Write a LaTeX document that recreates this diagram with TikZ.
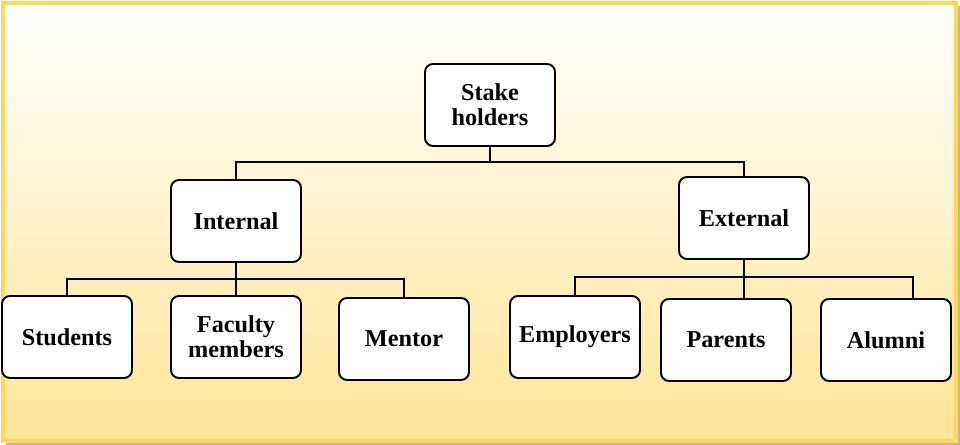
\documentclass[tikz,border=0pt]{standalone}
\usepackage{fontspec}
\setmainfont{Liberation Serif}
\usetikzlibrary{calc}

\definecolor{framegold}{RGB}{255,215,95}
\definecolor{shadegold}{RGB}{255,229,150}
\definecolor{framegray}{RGB}{200,185,140}

\begin{document}
\begin{tikzpicture}[x=0.02cm,y=-0.02cm,
    box/.style={draw,line width=1.1pt,rounded corners=0.16cm,fill=white,
        minimum width=2.6cm,minimum height=1.64cm,align=center,
        font=\fontsize{13.8}{14.3}\selectfont\bfseries},
    link/.style={line width=1.1pt}]
    \useasboundingbox (0,0) rectangle (960,445);

    % frame with shading
    \fill[framegray] (6,6) rectangle (960,445);
    \shade[top color=white,bottom color=shadegold] (3,3) rectangle (956,441);
    \draw[framegold,line width=1.8pt] (3,3) rectangle (956,441);

    \node[box] (stake) at (490,105) {Stake\\holders};

    \node[box] (internal) at (236,221) {Internal};
    \node[box] (external) at (744,218) {External};

    \node[box] (students) at (67,337) {Students};
    \node[box] (faculty) at (236,337) {Faculty\\members};
    \node[box] (mentor) at (404,339) {Mentor};

    \node[box] (employers) at (575,337) {Employers};
    \node[box] (parents) at (726,340) {Parents};
    \node[box] (alumni) at (886,340) {Alumni};

    \coordinate (topbar) at (490,162);
    \coordinate (intbar) at (236,279);
    \coordinate (extbar) at (744,277);

    \draw[link] (stake.south) -- (topbar);
    \draw[link] (internal.north) |- (topbar) -| (external.north);

    \draw[link] (internal.south) -- (intbar);
    \draw[link] (students.north) |- (intbar) -| (mentor.north);
    \draw[link] (intbar) -- (faculty.north);

    \draw[link] (external.south) -- (extbar);
    \draw[link] (employers.north) |- (extbar) -| ($(alumni.north)+(27,0)$);
    \draw[link] (extbar) -- (extbar |- parents.north);

\end{tikzpicture}
\end{document}
